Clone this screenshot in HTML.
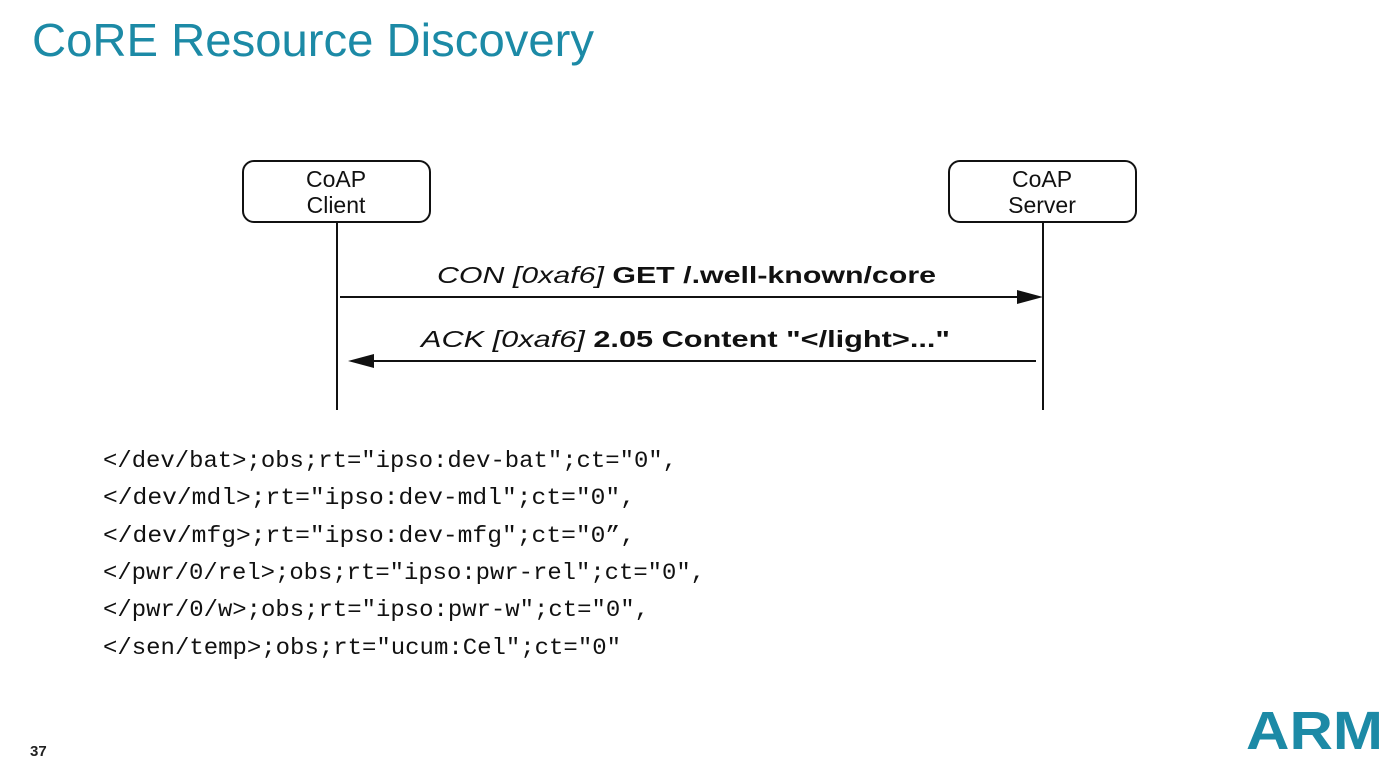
<!DOCTYPE html>
<html><head><meta charset="utf-8"><style>
html,body{margin:0;padding:0;background:#fff;}
svg{display:block;}
</style></head><body>
<svg width="1396" height="766" viewBox="0 0 1396 766" xmlns="http://www.w3.org/2000/svg">
<rect width="1396" height="766" fill="#fff"/>
<text x="32" y="56" font-family="Liberation Sans, sans-serif" font-size="46" fill="#1c8aa6" textLength="562" lengthAdjust="spacingAndGlyphs">CoRE Resource Discovery</text>
<g stroke="#111" stroke-width="2" fill="none">
<rect x="243" y="161" width="187" height="61" rx="11"/>
<rect x="949" y="161" width="187" height="61" rx="11"/>
<line x1="337" y1="222" x2="337" y2="410"/>
<line x1="1043" y1="222" x2="1043" y2="410"/>
<line x1="340" y1="297" x2="1020" y2="297"/>
<line x1="1036" y1="361" x2="372" y2="361"/>
</g>
<polygon points="1043,297 1017,290 1017,304" fill="#111"/>
<polygon points="348,361 374,354 374,368" fill="#111"/>
<g font-family="Liberation Sans, sans-serif" font-size="23" fill="#111" text-anchor="middle">
<text x="336" y="187">CoAP</text><text x="336" y="213">Client</text>
<text x="1042" y="187">CoAP</text><text x="1042" y="213">Server</text>
</g>
<text x="437" y="283" font-family="Liberation Sans, sans-serif" font-size="23" fill="#111" textLength="499" lengthAdjust="spacingAndGlyphs"><tspan font-style="italic">CON [0xaf6]</tspan> <tspan font-weight="bold">GET /.well-known/core</tspan></text>
<text x="421" y="347" font-family="Liberation Sans, sans-serif" font-size="23" fill="#111" textLength="529" lengthAdjust="spacingAndGlyphs"><tspan font-style="italic">ACK [0xaf6]</tspan>  <tspan font-weight="bold">2.05 Content "&lt;/light&gt;..."</tspan></text>
<g font-family="Liberation Mono, monospace" font-size="23" fill="#111">
<text x="103" y="467" textLength="574" lengthAdjust="spacingAndGlyphs">&lt;/dev/bat&gt;;obs;rt="ipso:dev-bat";ct="0",</text>
<text x="103" y="504" textLength="532" lengthAdjust="spacingAndGlyphs">&lt;/dev/mdl&gt;;rt="ipso:dev-mdl";ct="0",</text>
<text x="103" y="542" textLength="532" lengthAdjust="spacingAndGlyphs">&lt;/dev/mfg&gt;;rt="ipso:dev-mfg";ct="0”,</text>
<text x="103" y="579" textLength="602" lengthAdjust="spacingAndGlyphs">&lt;/pwr/0/rel&gt;;obs;rt="ipso:pwr-rel";ct="0",</text>
<text x="103" y="616" textLength="546" lengthAdjust="spacingAndGlyphs">&lt;/pwr/0/w&gt;;obs;rt="ipso:pwr-w";ct="0",</text>
<text x="103" y="654" textLength="518" lengthAdjust="spacingAndGlyphs">&lt;/sen/temp&gt;;obs;rt="ucum:Cel";ct="0"</text>
</g>
<text x="30" y="756" font-family="Liberation Sans, sans-serif" font-size="15" font-weight="bold" fill="#222">37</text>
<text x="1246" y="749" font-family="Liberation Sans, sans-serif" font-size="54" font-weight="bold" fill="#1c8aa6" textLength="137" lengthAdjust="spacingAndGlyphs">ARM</text>
</svg>
</body></html>
